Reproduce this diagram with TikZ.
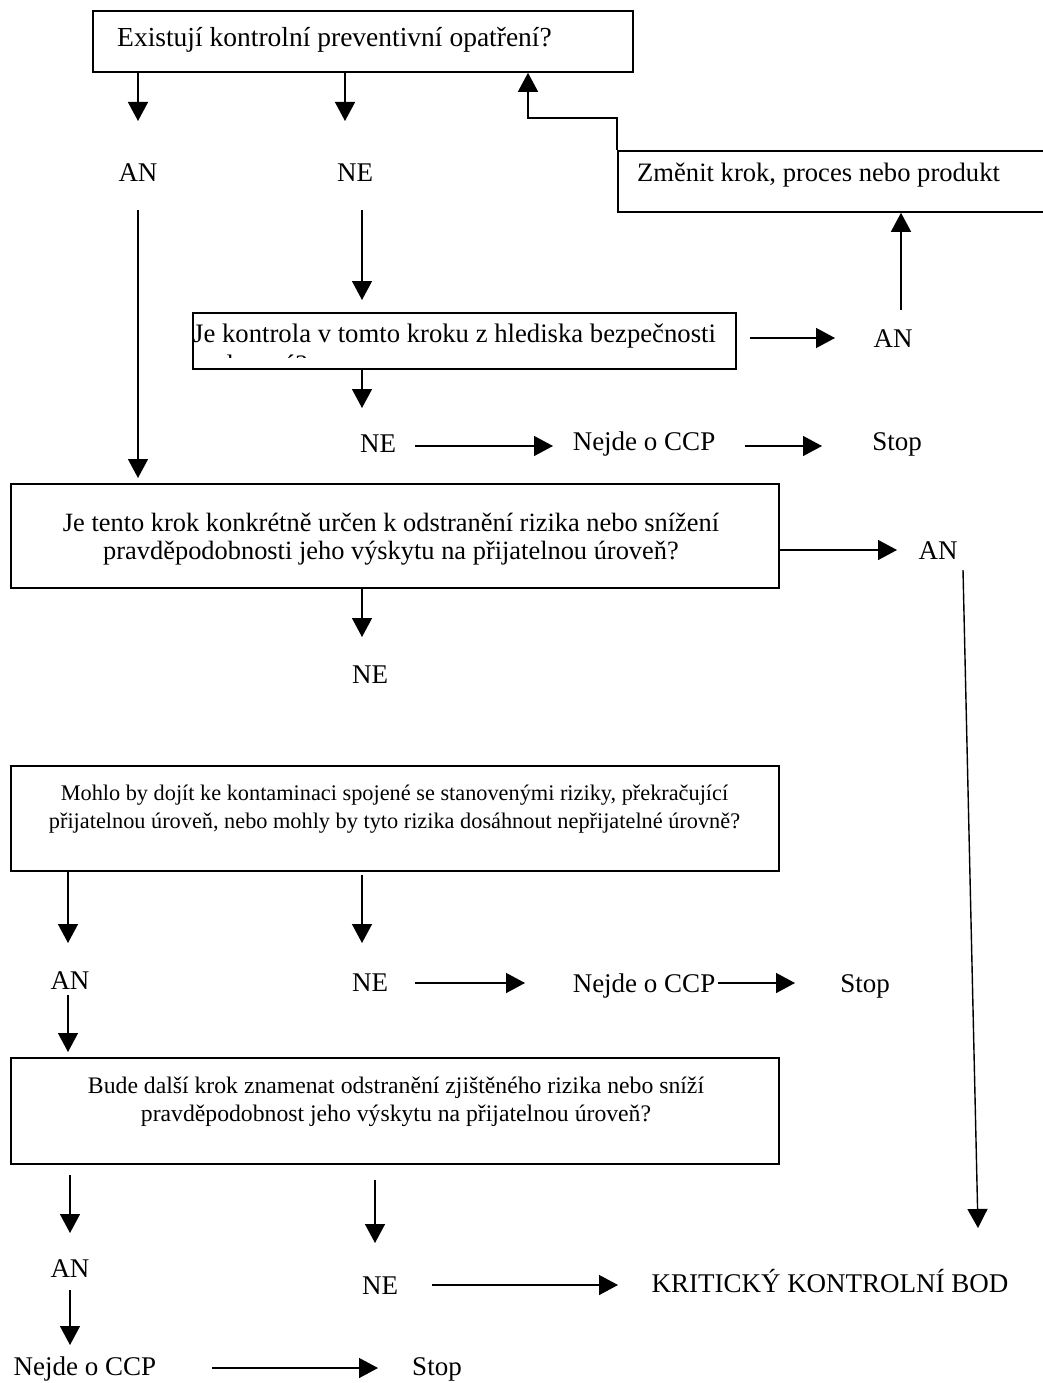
\documentclass[tikz,border=0pt]{standalone}
\usepackage{fontspec}
\setmainfont{Liberation Serif}
\usetikzlibrary{arrows.meta}
\tikzset{
  arr/.style={draw, line width=1.4pt, -{Triangle[length=19pt,width=20pt]}},
  qbox/.style={draw, line width=1.8pt, rectangle, inner sep=0pt, anchor=north west},
  lbl/.style={inner sep=0pt, anchor=base, font=\fontsize{27}{30}\selectfont},
  lblw/.style={inner sep=0pt, anchor=base west, font=\fontsize{27}{30}\selectfont},
  mline/.style={inner sep=0pt, anchor=base, align=center},
}
\begin{document}
\begin{tikzpicture}[x=1pt,y=-1pt]
\useasboundingbox[fill=white] (0,0) rectangle (1042,1383);
% boxes
\node[qbox, minimum width=540pt, minimum height=61pt] (b1) at (92,10) {};
\node[lblw, font=\fontsize{27.5}{30}\selectfont] (t1) at (117,47) {Existují kontrolní preventivní opatření?};
\node[qbox, minimum width=430pt, minimum height=61pt] (b6) at (617,150) {};
\node[lblw, font=\fontsize{26.6}{30}\selectfont] (t6) at (637,182) {Změnit krok, proces nebo produkt};
\node[qbox, minimum width=543pt, minimum height=56pt] (b2) at (192,312) {};
\node[lblw, font=\fontsize{26.7}{30}\selectfont] (t2) at (193,342) {Je kontrola v tomto kroku z hlediska bezpečnosti};
\begin{scope}
\clip (192,312) rectangle (735,357);
\node[lblw, font=\fontsize{26.7}{30}\selectfont] (t2b) at (193,373) {podstatná?};
\end{scope}
\node[qbox, minimum width=768pt, minimum height=104pt] (b3) at (10,483) {};
\node[mline, font=\fontsize{26.4}{28}\selectfont] (t3) at (391,559) {Je tento krok konkrétně určen k odstranění rizika nebo snížení\\pravděpodobnosti jeho výskytu na přijatelnou úroveň?};
\node[qbox, minimum width=768pt, minimum height=105pt] (b4) at (10,765) {};
\node[mline, font=\fontsize{22.3}{28}\selectfont] (t4) at (394.5,828) {Mohlo by dojít ke kontaminaci spojené se stanovenými riziky, překračující\\přijatelnou úroveň, nebo mohly by tyto rizika dosáhnout nepřijatelné úrovně?};
\node[qbox, minimum width=768pt, minimum height=106pt] (b5) at (10,1057) {};
\node[mline, font=\fontsize{23.7}{28}\selectfont] (t5) at (396,1121) {Bude další krok znamenat odstranění zjištěného rizika nebo sníží\\pravděpodobnost jeho výskytu na přijatelnou úroveň?};
% labels
\node[lbl] (an1) at (138,182) {AN};
\node[lbl] (ne1) at (355,182) {NE};
\node[lbl] (an2) at (893,347) {AN};
\node[lbl] (ne2) at (378,452) {NE};
\node[lbl] (cc1) at (644,450) {Nejde o CCP};
\node[lbl] (st1) at (897,450) {Stop};
\node[lbl] (an3) at (938,559) {AN};
\node[lbl] (ne3) at (370,683) {NE};
\node[lbl] (an4) at (70,989) {AN};
\node[lbl] (ne4) at (370,991) {NE};
\node[lbl] (cc2) at (644,992) {Nejde o CCP};
\node[lbl] (st2) at (865,992) {Stop};
\node[lbl] (an5) at (70,1277) {AN};
\node[lbl] (ne5) at (380,1294) {NE};
\node[lbl] (kkb) at (830,1292) {KRITICKÝ KONTROLNÍ BOD};
\node[lbl] (cc3) at (85,1375) {Nejde o CCP};
\node[lbl] (st3) at (437,1375) {Stop};
% coordinates
\coordinate (pa) at (138,121);
\coordinate (pb) at (345,121);
\coordinate (fb) at (528,118);
\coordinate (pc0) at (138,210); \coordinate (pc1) at (138,478);
\coordinate (pd0) at (362,210); \coordinate (pd1) at (362,300);
\coordinate (pe1) at (835,338);
\coordinate (pf0) at (901,310);
\coordinate (pg1) at (362,408);
\coordinate (ph0) at (415,446); \coordinate (ph1) at (553,446);
\coordinate (pi0) at (745,446); \coordinate (pi1) at (822,446);
\coordinate (pj1) at (897,550);
\coordinate (pk0) at (963,570); \coordinate (pk1) at (978,1228);
\coordinate (pl0) at (362,587); \coordinate (pl1) at (362,637);
\coordinate (pm1) at (68,943);
\coordinate (pn0) at (362,875); \coordinate (pn1) at (362,943);
\coordinate (po0) at (415,983); \coordinate (po1) at (525,983);
\coordinate (pp0) at (718,983); \coordinate (pp1) at (795,983);
\coordinate (pq0) at (68,995); \coordinate (pq1) at (68,1052);
\coordinate (pr0) at (70,1175); \coordinate (pr1) at (70,1233);
\coordinate (ps0) at (375,1180); \coordinate (ps1) at (375,1243);
\coordinate (pt0) at (432,1285); \coordinate (pt1) at (618,1285);
\coordinate (pu0) at (70,1290); \coordinate (pu1) at (70,1345);
\coordinate (pv0) at (212,1368); \coordinate (pv1) at (378,1368);
% connectors
\draw[arr] (b1.south -| pa) -- (pa);
\draw[arr] (b1.south -| pb) -- (pb);
\draw[arr] (b6.north west) |- (fb) -- (fb |- b1.south);
\draw[arr] (pc0) -- (pc1);
\draw[arr] (pd0) -- (pd1);
\draw[arr] ([xshift=13pt]b2.east |- pe1) -- (pe1);
\draw[arr] (pf0) -- (b6.south -| pf0);
\draw[arr] (b2.south -| pg1) -- (pg1);
\draw[arr] (ph0) -- (ph1);
\draw[arr] (pi0) -- (pi1);
\draw[arr] (b3.east |- pj1) -- (pj1);
\draw[arr] (pk0) -- (pk1);
\draw[arr] (pl0) -- (pl1);
\draw[arr] (b4.south -| pm1) -- (pm1);
\draw[arr] (pn0) -- (pn1);
\draw[arr] (po0) -- (po1);
\draw[arr] (pp0) -- (pp1);
\draw[arr] (pq0) -- (pq1);
\draw[arr] (pr0) -- (pr1);
\draw[arr] (ps0) -- (ps1);
\draw[arr] (pt0) -- (pt1);
\draw[arr] (pu0) -- (pu1);
\draw[arr] (pv0) -- (pv1);
\end{tikzpicture}
\end{document}
